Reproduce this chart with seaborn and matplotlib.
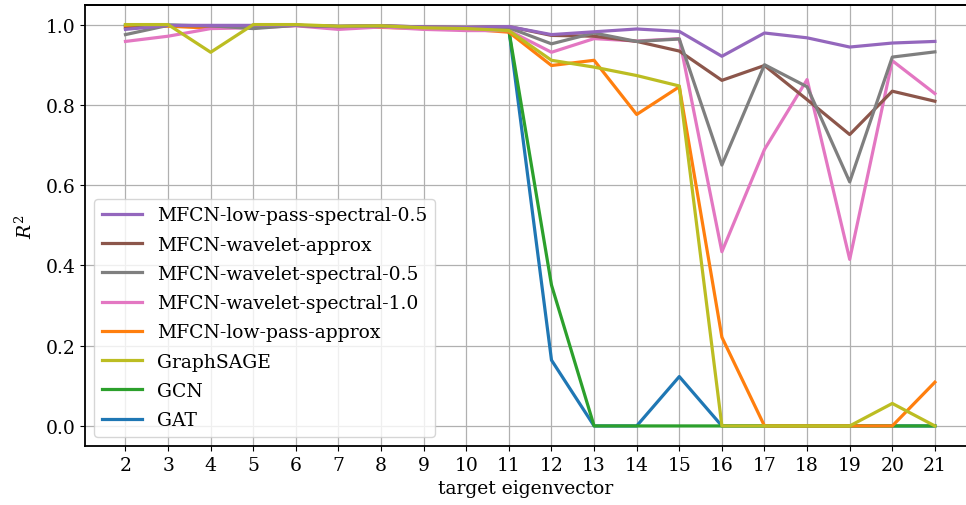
import numpy as np
import pandas as pd
import matplotlib
matplotlib.use("Agg")
import matplotlib.pyplot as plt
import seaborn as sns

x = list(range(2, 22))

lowpass_spec05 = [0.988, 0.998, 0.998, 0.998, 0.998, 0.996, 0.997, 0.994, 0.993, 0.995,
                  0.975, 0.982, 0.989, 0.983, 0.921, 0.979, 0.967, 0.944, 0.954, 0.958]
wavelet_approx = [0.990, 0.998, 0.997, 0.997, 0.998, 0.995, 0.997, 0.994, 0.993, 0.995,
                  0.973, 0.971, 0.958, 0.934, 0.861, 0.898, 0.813, 0.726, 0.834, 0.809]
wavelet_spec05 = [0.975, 0.998, 0.997, 0.990, 0.998, 0.995, 0.996, 0.993, 0.992, 0.992,
                  0.952, 0.979, 0.958, 0.964, 0.650, 0.900, 0.845, 0.608, 0.919, 0.932]
wavelet_spec10 = [0.958, 0.971, 0.990, 0.992, 0.997, 0.988, 0.994, 0.988, 0.985, 0.985,
                  0.931, 0.965, 0.959, 0.965, 0.434, 0.689, 0.863, 0.415, 0.910, 0.828]
lowpass_approx = [0.995, 0.996, 0.991, 0.996, 0.998, 0.994, 0.993, 0.990, 0.989, 0.981,
                  0.898, 0.911, 0.776, 0.845, 0.221, 0.0, 0.0, 0.0, 0.0, 0.109]
graphsage = [1.000, 1.000, 0.931, 1.000, 1.000, 0.996, 0.997, 0.992, 0.990, 0.985,
             0.911, 0.894, 0.873, 0.847, 0.0, 0.0, 0.0, 0.0, 0.056, 0.0]
gcn = [0.998, 0.998, 0.996, 0.996, 0.998, 0.995, 0.996, 0.992, 0.991, 0.985,
       0.351, 0.0, 0.0, 0.0, 0.0, 0.0, 0.0, 0.0, 0.0, 0.0]
gat = [0.998, 0.998, 0.997, 0.997, 0.998, 0.995, 0.996, 0.992, 0.991, 0.988,
       0.164, 0.0, 0.0, 0.123, 0.0, 0.0, 0.0, 0.0, 0.0, 0.0]

legend_names = ["MFCN-low-pass-spectral-0.5", "MFCN-wavelet-approx",
                "MFCN-wavelet-spectral-0.5", "MFCN-wavelet-spectral-1.0",
                "MFCN-low-pass-approx", "GraphSAGE", "GCN", "GAT"]
series = {
    "MFCN-low-pass-spectral-0.5": lowpass_spec05,
    "MFCN-wavelet-approx": wavelet_approx,
    "MFCN-wavelet-spectral-0.5": wavelet_spec05,
    "MFCN-wavelet-spectral-1.0": wavelet_spec10,
    "MFCN-low-pass-approx": lowpass_approx,
    "GraphSAGE": graphsage,
    "GCN": gcn,
    "GAT": gat,
}
colors = {
    "MFCN-low-pass-spectral-0.5": "#9467bd",
    "MFCN-wavelet-approx": "#8c564b",
    "MFCN-wavelet-spectral-0.5": "#7f7f7f",
    "MFCN-wavelet-spectral-1.0": "#e377c2",
    "MFCN-low-pass-approx": "#ff7f0e",
    "GraphSAGE": "#bcbd22",
    "GCN": "#2ca02c",
    "GAT": "#1f77b4",
}
draw_order = ["GAT", "GCN", "MFCN-low-pass-approx", "MFCN-wavelet-spectral-1.0",
              "MFCN-wavelet-approx", "MFCN-wavelet-spectral-0.5",
              "MFCN-low-pass-spectral-0.5", "GraphSAGE"]

plt.rcParams['font.family'] = ['DejaVu Serif']
plt.rcParams['mathtext.fontset'] = 'dejavuserif'

fig = plt.figure(figsize=(9.66, 5.06), dpi=100)
left_px, bottom_px, top_px = 85.0, 447.0, 5.5
ax = fig.add_axes([left_px / 966, 1 - bottom_px / 506, 1 - left_px / 966,
                   (bottom_px - top_px) / 506])

handles = {}
for name in draw_order:
    df = pd.DataFrame({"x": x, "y": series[name]})
    sns.lineplot(data=df, x="x", y="y", ax=ax, color=colors[name], linewidth=2.3,
                 label=name, legend=False)
    handles[name] = ax.lines[-1]

fs = 13.5
ax.set_xticks(x)
ax.set_xticklabels([str(v) for v in x], fontsize=fs)
ax.set_yticks([0.0, 0.2, 0.4, 0.6, 0.8, 1.0])
ax.set_yticklabels(["0.0", "0.2", "0.4", "0.6", "0.8", "1.0"], fontsize=fs)
ax.set_xlim(1.05, 21.73)
ax.set_ylim(-0.05, 1.05)
ax.grid(True, color="#b0b0b0", linewidth=0.9)
ax.set_axisbelow(True)
for s in ax.spines.values():
    s.set_linewidth(1.3)
    s.set_color("black")
    s.set_zorder(5)
ax.spines["top"].set_visible(True)
ax.spines["right"].set_visible(False)
# reinforce the top frame edge
ax.plot([0, 1], [1, 1], transform=ax.transAxes, color="black", linewidth=1.3,
        clip_on=False, zorder=6)
ax.set_xlabel("target eigenvector", fontsize=fs)
ax.set_ylabel("$R^2$", fontsize=fs, labelpad=7)

ax.legend([handles[n] for n in legend_names], legend_names, loc="lower left",
          fontsize=fs, labelspacing=0.6, handlelength=2.15)

fig.savefig("out.png", dpi=100)
